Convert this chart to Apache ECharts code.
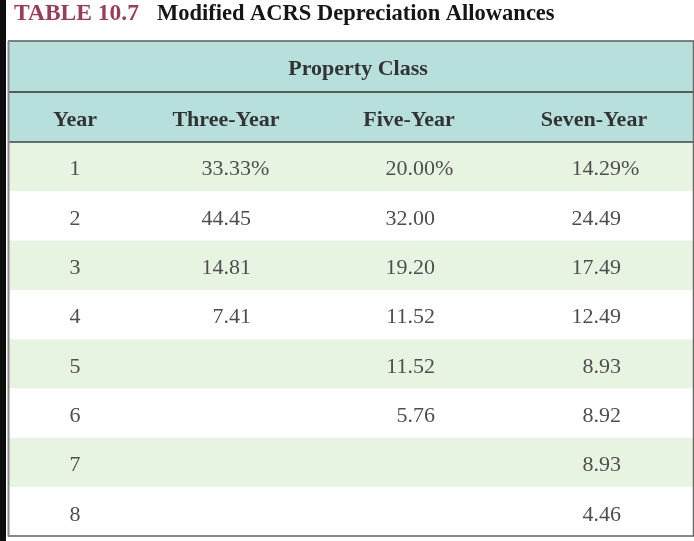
<!DOCTYPE html>
<html><head><meta charset="utf-8">
<script src="https://cdn.jsdelivr.net/npm/echarts@6/dist/echarts.min.js"></script>
<style>html,body{margin:0;padding:0;background:#fff}#c{width:694px;height:541px}</style>
</head><body><div id="c"></div>
<script>
// ---- data ----
const titleLabel = 'TABLE 10.7';
const titleText = 'Modified ACRS Depreciation Allowances';
const groupHeader = 'Property Class';
const columnHeaders = ['Year', 'Three-Year', 'Five-Year', 'Seven-Year'];
const years = [1, 2, 3, 4, 5, 6, 7, 8];
const threeYear = [33.33, 44.45, 14.81, 7.41, null, null, null, null];
const fiveYear = [20.00, 32.00, 19.20, 11.52, 11.52, 5.76, null, null];
const sevenYear = [14.29, 24.49, 17.49, 12.49, 8.93, 8.92, 8.93, 4.46];

// ---- layout (axis units) ----
const tableW = 686;
const headerX = [67, 218, 401, 586];
const groupX = 350;
const numRight = [243, 427, 613];
const rowHeights = [51, 50].concat(years.map(() => 49.3));
const rowEdges = [0];
rowHeights.forEach((h, i) => rowEdges.push(rowEdges[i] + h));
const tableH = rowEdges[rowEdges.length - 1];
const FONT = "'Liberation Serif', 'Times New Roman', serif";
const headFill = '#b7dfdc', greenFill = '#e8f4e2', whiteFill = '#ffffff';

// bands
const bands = [[0, 0], [1, 0]];
years.forEach((y, i) => bands.push([i + 2, i % 2 === 0 ? 1 : 2]));
const bandColors = [headFill, greenFill, whiteFill];

// cells
const cells = [];
cells.push({ x: groupX, row: 0, text: groupHeader, bold: true, align: 'center' });
columnHeaders.forEach((h, i) => cells.push({ x: headerX[i], row: 1, text: h, bold: true, align: 'center' }));
const cols = [threeYear, fiveYear, sevenYear];
years.forEach((y, i) => {
  cells.push({ x: headerX[0], row: i + 2, text: String(y), align: 'center' });
  cols.forEach((col, c) => {
    if (col[i] == null) return;
    cells.push({ x: numRight[c], row: i + 2, text: col[i].toFixed(2), align: 'right', pct: i === 0 });
  });
});

const chart = echarts.init(document.getElementById('c'));
chart.setOption({
  animation: false,
  title: {
    text: `{a|${titleLabel}}{g|}{b|${titleText}}`,
    left: 9, top: -3,
    textStyle: {
      rich: {
        a: { fontFamily: FONT, fontWeight: 'bold', fontSize: 23.5, color: '#9c3d57' },
        g: { width: 18 },
        b: { fontFamily: FONT, fontWeight: 'bold', fontSize: 22.5, color: '#151515' }
      }
    }
  },
  graphic: [{ type: 'rect', left: 0, top: 0, shape: { width: 6, height: 541 }, style: { fill: '#0e0e0e' } }],
  grid: { left: 8, right: 0, top: 41, height: tableH },
  xAxis: { type: 'value', min: 0, max: tableW, show: false },
  yAxis: { type: 'value', min: 0, max: tableH, inverse: true, show: false },
  series: [
    {
      type: 'custom', clip: false, silent: true,
      data: bands,
      renderItem(params, api) {
        const r = api.value(0);
        const p0 = api.coord([0, rowEdges[r]]), p1 = api.coord([tableW, rowEdges[r + 1]]);
        return { type: 'rect', shape: { x: p0[0], y: p0[1], width: p1[0] - p0[0], height: p1[1] - p0[1] },
                 style: { fill: bandColors[api.value(1)] } };
      }
    },
    {
      type: 'custom', clip: false, silent: true,
      data: [[0, 0]],
      renderItem(params, api) {
        const hl = (yv, color, w) => {
          const a = api.coord([0, yv]), b = api.coord([tableW, yv]);
          return { type: 'line', shape: { x1: a[0], y1: a[1], x2: b[0], y2: b[1] }, style: { stroke: color, lineWidth: w } };
        };
        const vl = (x, color, w) => {
          const a = api.coord([x, 0]), b = api.coord([x, tableH]);
          return { type: 'line', shape: { x1: a[0], y1: a[1], x2: b[0], y2: b[1] }, style: { stroke: color, lineWidth: w } };
        };
        return { type: 'group', children: [
          hl(rowEdges[0], '#5a5a5a', 1.5), hl(rowEdges[1], '#555a5a', 2), hl(rowEdges[2], '#3f4444', 1.5),
          hl(tableH - 0.5, '#8a8a8a', 2),
          vl(0.5, '#8a8a8a', 2), vl(tableW - 0.5, '#6a6a6a', 1.5)
        ] };
      }
    },
    {
      type: 'custom', clip: false, silent: true,
      data: cells.map(c => [c.x, (rowEdges[c.row] + rowEdges[c.row + 1]) / 2]),
      renderItem(params, api) {
        const c = cells[params.dataIndex];
        const p = api.coord([api.value(0), api.value(1)]);
        const base = {
          fontFamily: FONT, fontSize: 22,
          fontWeight: c.bold ? 'bold' : 'normal',
          fill: c.bold ? '#333333' : '#4e4e4e',
          verticalAlign: 'middle'
        };
        const dy = 3;
        const kids = [{ type: 'text', x: p[0], y: p[1] + dy, style: Object.assign({ text: c.text, align: c.align }, base) }];
        if (c.pct) kids.push({ type: 'text', x: p[0], y: p[1] + dy, style: Object.assign({ text: '%', align: 'left' }, base) });
        return { type: 'group', children: kids };
      }
    }
  ]
});
</script></body></html>
